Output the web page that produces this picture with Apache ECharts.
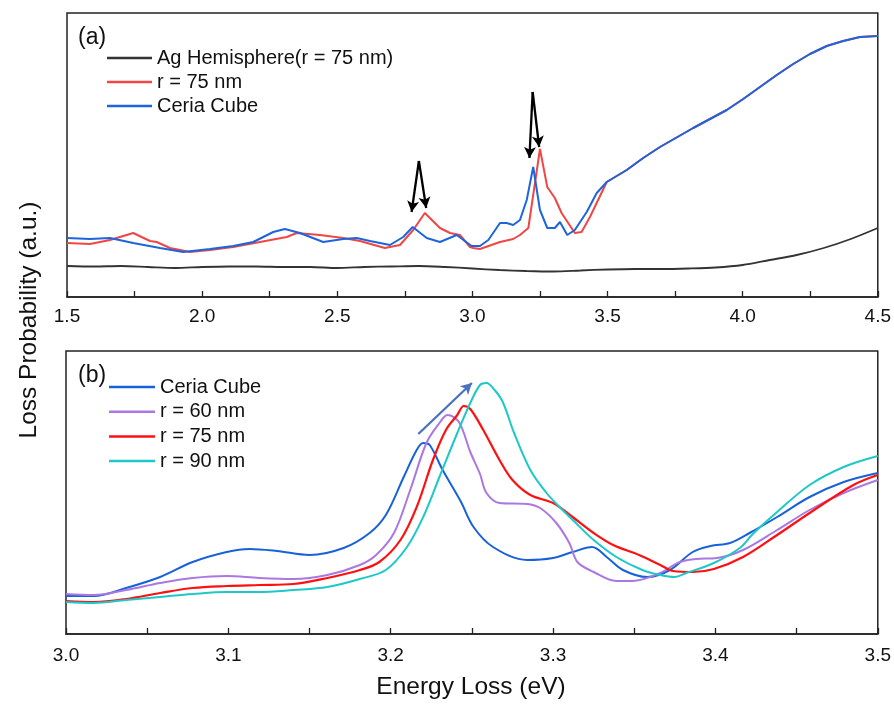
<!DOCTYPE html>
<html>
<head>
<meta charset="utf-8">
<script src="https://cdn.jsdelivr.net/npm/echarts@6/dist/echarts.min.js"></script>
<style>html,body{margin:0;padding:0;background:#fff}#c{width:894px;height:704px}</style>
</head>
<body>
<div id="c"></div>
<script>
// ---------- Panel (a) data: [energy (eV), loss probability (a.u.)] ----------
const agHemisphere = [[1.5,31],[1.6,30.5],[1.7,31],[1.8,30],[1.9,29],[2.0,30],[2.1,30.5],[2.2,30.5],[2.3,30],[2.4,30],[2.5,29],[2.6,30],[2.7,30.5],[2.8,31],[2.9,30],[3.0,28.5],[3.1,27],[3.2,26],[3.3,25.5],[3.4,26.5],[3.5,27.5],[3.6,28],[3.7,28],[3.8,28.5],[3.9,29.5],[4.0,32],[4.1,37],[4.2,42],[4.3,49],[4.4,58],[4.5,69]];
const r75Top = [[1.5,54],[1.585,53],[1.659,57],[1.745,64],[1.807,56],[1.832,55],[1.881,49],[1.955,45],[2.029,47],[2.115,50],[2.214,55],[2.313,60],[2.35,64],[2.436,62],[2.522,59],[2.584,56],[2.676,49],[2.732,52],[2.781,67],[2.824,84],[2.88,69],[2.917,64],[2.954,62],[2.991,50],[3.003,49],[3.028,48],[3.102,55],[3.151,58],[3.176,62],[3.207,69],[3.25,148],[3.277,110],[3.305,99],[3.33,84],[3.379,64],[3.404,65],[3.435,80],[3.497,115],[3.571,127],[3.632,139],[3.694,150],[3.817,169],[3.941,187],[4.002,198],[4.064,210],[4.126,222],[4.187,233],[4.249,243],[4.311,251],[4.372,256],[4.434,260],[4.5,261]];
const ceriaTop = [[1.5,59],[1.585,58],[1.659,59],[1.745,54],[1.844,49],[1.93,45],[2.029,48],[2.115,51],[2.189,55],[2.263,65],[2.306,68],[2.362,64],[2.448,55],[2.522,58],[2.572,59],[2.621,56],[2.695,52],[2.744,60],[2.779,70],[2.831,59],[2.88,55],[2.942,62],[2.997,51],[3.028,51],[3.059,57],[3.102,74],[3.127,74],[3.151,72],[3.176,77],[3.201,97],[3.225,130],[3.25,87],[3.277,69],[3.305,69],[3.324,75],[3.351,62],[3.379,67],[3.423,85],[3.46,104],[3.497,115],[3.571,127],[3.632,139],[3.694,150],[3.817,169],[3.941,187],[4.002,198],[4.064,210],[4.126,222],[4.187,233],[4.249,243],[4.311,251],[4.372,256],[4.434,260],[4.5,261]];
// arrows in panel (a): [start, end] in data coordinates
const arrowsTop = [
  [[2.802,136],[2.775,85]], [[2.802,136],[2.829,89]],
  [[3.223,205],[3.211,139]], [[3.223,205],[3.247,150]]
];

// ---------- Panel (b) data ----------
const ceriaBot = [[3.0,38],[3.017,38],[3.037,46],[3.058,57],[3.078,72],[3.099,82],[3.113,85],[3.13,83],[3.15,79],[3.171,86],[3.187,101],[3.197,119],[3.208,157],[3.216,184],[3.22,191],[3.224,189],[3.232,164],[3.243,133],[3.251,107],[3.263,87],[3.284,74],[3.3,76],[3.312,82],[3.324,87],[3.333,77],[3.343,64],[3.358,57],[3.372,64],[3.386,82],[3.397,88],[3.409,91],[3.421,101],[3.438,117],[3.458,137],[3.479,152],[3.5,161]];
const r60Bot = [[3.0,40],[3.017,39],[3.037,44],[3.058,51],[3.078,56],[3.099,58],[3.119,56],[3.14,55],[3.161,59],[3.181,69],[3.191,79],[3.202,101],[3.212,144],[3.222,191],[3.23,211],[3.235,219],[3.242,212],[3.249,182],[3.255,160],[3.259,141],[3.267,131],[3.284,130],[3.292,126],[3.302,111],[3.31,91],[3.315,72],[3.325,62],[3.339,53],[3.349,53],[3.366,61],[3.378,72],[3.388,75],[3.401,76],[3.417,84],[3.438,104],[3.458,124],[3.479,141],[3.5,154]];
const r75Bot = [[3.0,33],[3.017,32],[3.037,35],[3.058,41],[3.078,46],[3.099,48],[3.119,49],[3.14,50],[3.161,56],[3.181,64],[3.193,72],[3.206,94],[3.216,127],[3.226,174],[3.234,204],[3.241,219],[3.245,228],[3.249,225],[3.257,204],[3.267,174],[3.275,154],[3.286,139],[3.3,131],[3.312,117],[3.325,101],[3.337,89],[3.353,79],[3.366,69],[3.374,63],[3.386,62],[3.399,65],[3.417,77],[3.438,99],[3.458,121],[3.485,149],[3.5,159]];
const r90Bot = [[3.0,32],[3.017,31],[3.037,34],[3.058,37],[3.078,40],[3.099,42],[3.119,42],[3.14,44],[3.161,47],[3.181,55],[3.197,64],[3.21,87],[3.22,117],[3.23,157],[3.241,201],[3.249,231],[3.255,249],[3.259,251],[3.264,244],[3.269,232],[3.276,201],[3.286,164],[3.296,141],[3.304,127],[3.314,111],[3.325,94],[3.339,77],[3.355,64],[3.366,59],[3.375,57],[3.382,61],[3.399,71],[3.415,86],[3.423,100],[3.438,122],[3.458,149],[3.479,167],[3.5,178]];
const arrowBot = [[[3.217,200],[3.250,251]]];

// tick settings
const topTicks = {min:1.5, max:4.5, interval:0.5};
const botTicks = {min:3.0, max:3.5, interval:0.1};

const FONT = 'Liberation Sans, Arial, sans-serif';

function xAxisCfg(idx, t, margin){
  return {
    type:'value', gridIndex:idx, min:t.min, max:t.max, interval:t.interval,
    axisLine:{show:true, onZero:false, lineStyle:{color:'#222', width:1.5}},
    axisTick:{show:true, inside:true, length:6, lineStyle:{color:'#222', width:1.3}},
    minorTick:{show:true, splitNumber:2, length:6, lineStyle:{color:'#222', width:1.3}},
    splitLine:{show:false},
    axisLabel:{margin:margin, fontSize:19, fontFamily:FONT, color:'#111', formatter:v=>v.toFixed(1)}
  };
}
function yAxisCfg(idx, max){
  return {type:'value', gridIndex:idx, min:0, max:max, show:false};
}
function arrowMark(list, color){
  return {
    silent:true, symbol:['none','arrow'], symbolSize:[9,11], animation:false,
    label:{show:false},
    lineStyle:{color:color, width:2.3, type:'solid'},
    emphasis:{disabled:true},
    data:list.map(p=>[{coord:p[0]},{coord:p[1]}])
  };
}
function line(name, data, color, xi, smooth, width, extra){
  return Object.assign({
    name:name, type:'line', xAxisIndex:xi, yAxisIndex:xi, data:data,
    symbol:'none', showSymbol:false, smooth:smooth, animation:false,
    lineStyle:{color:color, width:width}, itemStyle:{color:color}
  }, extra||{});
}

const chart = echarts.init(document.getElementById('c'));
chart.setOption({
  backgroundColor:'#fff',
  animation:false,
  grid:[
    {left:67, top:13, right:16, height:284, show:true, borderColor:'#222', borderWidth:1.5, backgroundColor:'transparent'},
    {left:66, top:351, right:16, height:283, show:true, borderColor:'#222', borderWidth:1.5, backgroundColor:'transparent'}
  ],
  xAxis:[xAxisCfg(0, topTicks, 10), xAxisCfg(1, botTicks, 12)],
  yAxis:[yAxisCfg(0, 284), yAxisCfg(1, 283)],
  legend:[
    {
      orient:'vertical', left:107, top:48, padding:0, icon:'rect', itemWidth:45, itemHeight:2.5, itemGap:4,
      textStyle:{fontSize:20, fontFamily:FONT, color:'#111'},
      formatter:n=>n.split('::')[1], selectedMode:false,
      data:['a::Ag Hemisphere(r = 75 nm)','a::r = 75 nm','a::Ceria Cube']
    },
    {
      orient:'vertical', left:109, top:377, padding:0, icon:'rect', itemWidth:46, itemHeight:2.5, itemGap:4.7,
      textStyle:{fontSize:20, fontFamily:FONT, color:'#111'},
      formatter:n=>n.split('::')[1], selectedMode:false,
      data:['b::Ceria Cube','b::r = 60 nm','b::r = 75 nm','b::r = 90 nm']
    }
  ],
  series:[
    line('a::Ag Hemisphere(r = 75 nm)', agHemisphere, '#333333', 0, 0.3, 1.8),
    line('a::r = 75 nm', r75Top, '#f04646', 0, false, 2),
    line('a::Ceria Cube', ceriaTop, '#1d65dc', 0, false, 2, {markLine:arrowMark(arrowsTop, '#000')}),
    line('b::Ceria Cube', ceriaBot, '#1762d8', 1, 0.35, 2),
    line('b::r = 60 nm', r60Bot, '#aa78e0', 1, 0.35, 2),
    line('b::r = 75 nm', r75Bot, '#ff1010', 1, 0.35, 2.2),
    line('b::r = 90 nm', r90Bot, '#1ec8c8', 1, 0.35, 2, {markLine:arrowMark(arrowBot, '#4a72c0')})
  ],
  graphic:[
    {type:'text', left:78, top:26, style:{text:'(a)', font:'23px '+FONT, fill:'#111'}},
    {type:'text', left:78, top:364, style:{text:'(b)', font:'23px '+FONT, fill:'#111'}},
    {type:'text', x:29, y:320, rotation:Math.PI/2, style:{text:'Loss Probability (a.u.)', font:'24.5px '+FONT, fill:'#111', align:'center', verticalAlign:'middle'}},
    {type:'text', x:471, y:687, style:{text:'Energy Loss (eV)', font:'24.5px '+FONT, fill:'#111', align:'center', verticalAlign:'middle'}}
  ]
});
</script>
</body>
</html>
